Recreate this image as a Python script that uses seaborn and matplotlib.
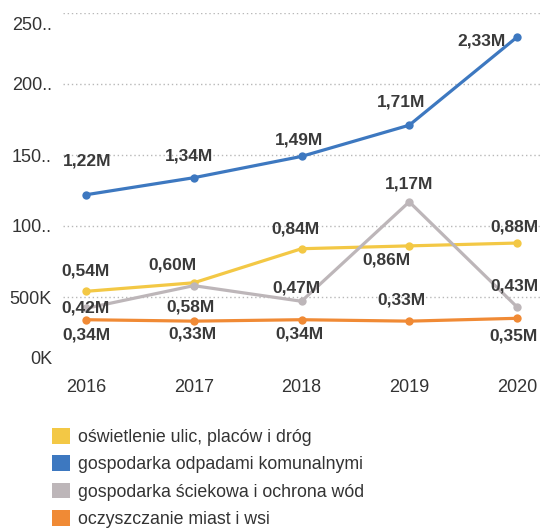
import pandas as pd
import matplotlib.pyplot as plt
import matplotlib.transforms as mtransforms
from matplotlib.patches import Patch
import seaborn as sns

# Wartości w mln zł
lata = [2016, 2017, 2018, 2019, 2020]
oswietlenie = [0.54, 0.60, 0.84, 0.86, 0.88]
odpady = [1.22, 1.34, 1.49, 1.71, 2.33]
scieki = [0.42, 0.58, 0.47, 1.17, 0.43]
oczyszczanie = [0.34, 0.33, 0.34, 0.33, 0.35]

nazwy = ['oświetlenie ulic, placów i dróg',
         'gospodarka odpadami komunalnymi',
         'gospodarka ściekowa i ochrona wód',
         'oczyszczanie miast i wsi']
kolory = ['#F3C845', '#3D78C0', '#BDB6B9', '#F08A35']

y_ticks = [0, 0.5, 1.0, 1.5, 2.0, 2.5]
y_labels = ['0K', '500K', '100..', '150..', '200..', '250..']

# przesunięcia etykiet danych (piksele), żeby nie nachodziły na siebie
offsets = [
    [(0, 20), (-21, 18), (-6, 20), (-23, -14), (-3, 16)],
    [(1, 34), (-5, 22), (-3, 16), (-8, 23), (-36, -4)],
    [(0, 0), (-3, -21), (-5, 13), (0, 18), (-3, 21)],
    [(0, -15), (-1, -13), (-2, -14), (-8, 21), (-3, -18)],
]

serie = [oswietlenie, odpady, scieki, oczyszczanie]
rows = []
for nazwa, vals in zip(nazwy, serie):
    for rok, v in zip(lata, vals):
        rows.append({'Rok': rok, 'Wartosc': v, 'Kategoria': nazwa})
df = pd.DataFrame(rows)

sns.set_theme(style='white')
plt.rcParams['font.family'] = ['Liberation Sans', 'DejaVu Sans']

fig = plt.figure(figsize=(5.4, 5.32), dpi=100)
ax = fig.add_axes([63 / 540, 1 - 368 / 532, 477 / 540, 355 / 532])

sns.lineplot(data=df, x='Rok', y='Wartosc', hue='Kategoria', hue_order=nazwy,
             palette=kolory, marker='o', markersize=6, markeredgewidth=0,
             linewidth=2.3, legend=False, ax=ax)

for vals, offs in zip(serie, offsets):
    for rok, v, (dx, dy) in zip(lata, vals, offs):
        ax.annotate(f'{v:.2f}M'.replace('.', ','), (rok, v),
                    xytext=(dx, dy), textcoords='offset pixels',
                    ha='center', va='center', fontsize=12.5,
                    fontweight='bold', color='#3a3a3a')

ax.set_xlim(2016 - 23 / 107.75, 2020 + 23 / 107.75)
ax.set_ylim(0, 2.5)
ax.set_xticks(lata)
ax.set_xticklabels([str(r) for r in lata])
ax.set_yticks(y_ticks)
ax.set_yticklabels(y_labels)
ax.set_xlabel('')
ax.set_ylabel('')
ax.tick_params(axis='both', length=0, labelsize=13, labelcolor='#333333')
ax.tick_params(axis='x', pad=8)
ax.tick_params(axis='y', pad=8)
for s in ax.spines.values():
    s.set_visible(False)
ax.yaxis.grid(True, linestyle=(0, (1, 2)), color='#b8b8b8', linewidth=1)
ax.xaxis.grid(False)
ax.yaxis.get_gridlines()[0].set_visible(False)

# Power BI wsuwa skrajne etykiety osi do środka
lbls = ax.get_yticklabels()
lbls[0].set_transform(lbls[0].get_transform() +
                      mtransforms.ScaledTranslation(0, 0.10, fig.dpi_scale_trans))
lbls[-1].set_transform(lbls[-1].get_transform() +
                       mtransforms.ScaledTranslation(0, -0.10, fig.dpi_scale_trans))

handles = [Patch(facecolor=c, edgecolor='none', label=n) for n, c in zip(nazwy, kolory)]
fig.legend(handles=handles, loc='upper left',
           bbox_to_anchor=(52 / 540, 1 - 428 / 532), frameon=False,
           fontsize=12.8, handlelength=1.0, handleheight=1.0,
           handletextpad=0.45, labelspacing=0.52, borderpad=0,
           borderaxespad=0, labelcolor='#333333')

fig.savefig('out.png', dpi=100)
